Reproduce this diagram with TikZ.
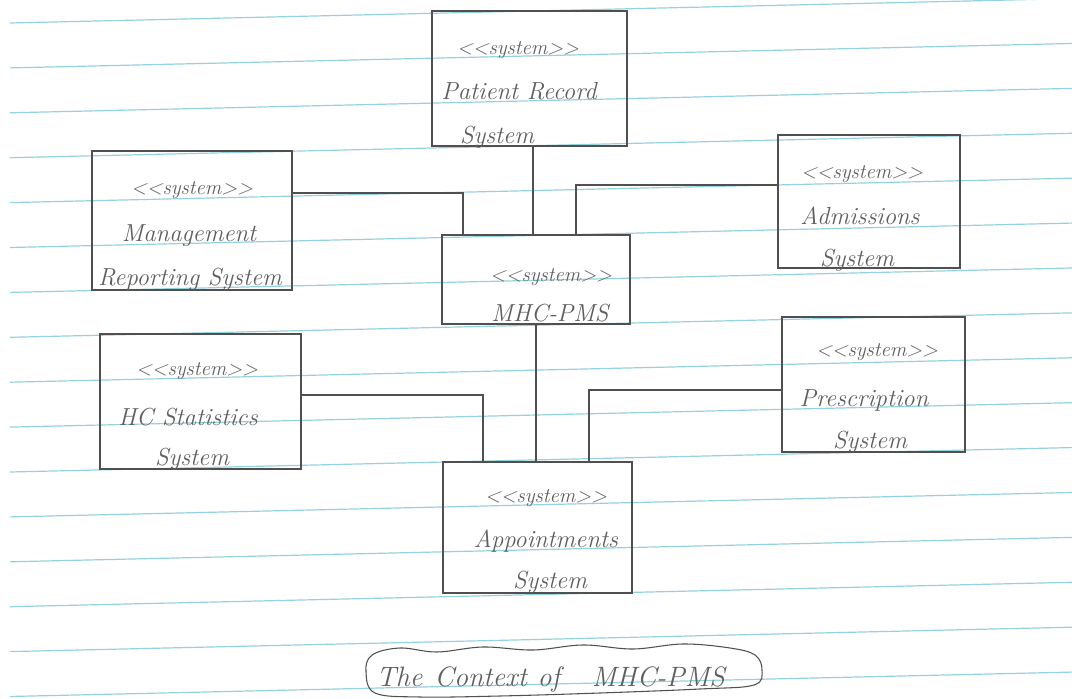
\documentclass[tikz,border=0pt]{standalone}
\usepackage{fontspec}
\usetikzlibrary{calc}
\definecolor{ruling}{RGB}{150,210,222}
\definecolor{pencil}{RGB}{80,80,80}
\definecolor{lead}{RGB}{95,95,95}
\begin{document}
\begin{tikzpicture}[x=0.75pt,y=-0.75pt,
  sysbox/.style={draw=pencil, line width=0.8pt, inner sep=0pt, outer sep=0pt},
  link/.style={draw=pencil, line width=0.8pt},
  hand/.style={text=lead, inner sep=0pt, anchor=base,
    font=\fontsize{18.5}{21}\selectfont\itshape},
  stereo/.style={hand, font=\fontsize{15.5}{18}\selectfont\itshape},
]
\useasboundingbox (0,0) rectangle (1072,699);
\fill[white] (0,0) rectangle (1072,699);

% ruled notebook paper
\foreach \k in {0,...,15}{
  \pgfmathsetmacro\yl{23+44.9*\k}
  \pgfmathsetmacro\yr{\yl-0.023*1062}
  \draw[ruling, line width=0.9pt] (10,\yl) -- (1072,\yr);
}

% systems
\node[sysbox, minimum width=195*0.75pt, minimum height=135*0.75pt] (pr)  at (529.5,78.5)  {};
\node[sysbox, minimum width=200*0.75pt, minimum height=139*0.75pt] (mr)  at (192,220.5)   {};
\node[sysbox, minimum width=188*0.75pt, minimum height=89*0.75pt]  (mhc) at (536,279.5)   {};
\node[sysbox, minimum width=182*0.75pt, minimum height=133*0.75pt] (adm) at (869,201.5)   {};
\node[sysbox, minimum width=183*0.75pt, minimum height=135*0.75pt] (rx)  at (873.5,384.5) {};
\node[sysbox, minimum width=201*0.75pt, minimum height=135*0.75pt] (hcs) at (200.5,401.5) {};
\node[sysbox, minimum width=189*0.75pt, minimum height=131*0.75pt] (apt) at (537.5,527.5) {};

% labels
\node[stereo] (pr-s)  at (518,55)  {{<}{<}system{>}{>}};
\node[hand]   (pr-1)  at (519,99)  {Patient Record};
\node[hand]   (pr-2)  at (497,143) {System};

\node[stereo] (mr-s)  at (192,195) {{<}{<}system{>}{>}};
\node[hand]   (mr-1)  at (189,241) {Management};
\node[hand]   (mr-2)  at (190,285) {Reporting System};

\node[stereo] (mhc-s) at (551,281) {{<}{<}system{>}{>}};
\node[hand]   (mhc-1) at (550,321) {MHC-PMS};

\node[stereo] (adm-s) at (862,178) {{<}{<}system{>}{>}};
\node[hand]   (adm-1) at (860,224) {Admissions};
\node[hand]   (adm-2) at (857,266) {System};

\node[stereo] (rx-s)  at (877,356) {{<}{<}system{>}{>}};
\node[hand]   (rx-1)  at (864,406) {Prescription};
\node[hand]   (rx-2)  at (870,448) {System};

\node[stereo] (hcs-s) at (197,375) {{<}{<}system{>}{>}};
\node[hand]   (hcs-1) at (188,425) {HC Statistics};
\node[hand]   (hcs-2) at (192,465) {System};

\node[stereo] (apt-s) at (546,502) {{<}{<}system{>}{>}};
\node[hand]   (apt-1) at (546,547) {Appointments};
\node[hand]   (apt-2) at (550,588) {System};

% connectors
\coordinate (prfoot) at ($(pr.south)+(3.5,0)$);
\draw[link] (prfoot) -- (prfoot |- mhc.north);
\draw[link] ($(mr.east)+(0,-27.5)$) -| ($(mhc.north)+(-73,0)$);
\draw[link] ($(adm.west)+(0,-16.5)$) -| ($(mhc.north)+(40,0)$);
\draw[link] (mhc.south) -- (mhc.south |- apt.north);
\draw[link] ($(hcs.east)+(0,-6.5)$) -| ($(apt.north)+(-54.5,0)$);
\draw[link] ($(rx.west)+(0,5.5)$) -| ($(apt.north)+(51.5,0)$);

% caption
\node[hand, anchor=base west, font=\fontsize{21}{24}\selectfont\itshape] (ttl) at (376,686)
  {The\hspace{9pt}Context\hspace{8pt}of\hspace{24pt}MHC-PMS};
\draw[link] plot[smooth cycle, tension=0.6] coordinates {
  (366,672) (372,655) (400,648) (437,652) (483,647) (533,650) (583,645)
  (633,649) (683,644) (730,648) (755,655) (762,670) (754,685) (700,689)
  (600,693) (500,696) (420,697) (375,693)};
\end{tikzpicture}
\end{document}
